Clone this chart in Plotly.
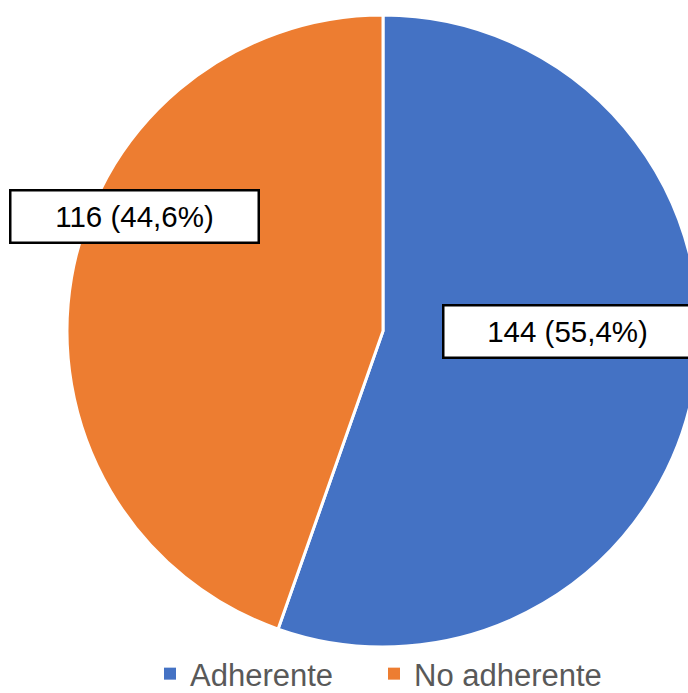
import plotly.graph_objects as go

categories = ["Adherente", "No adherente"]
counts = [144, 116]
pct_labels = ["55,4%", "44,6%"]
colors = ["#4472C4", "#ED7D31"]

W, H = 720, 693

def px(x):
    return x / W

def py(y):
    return 1 - y / H

fig = go.Figure(go.Pie(
    labels=categories,
    values=counts,
    sort=False,
    direction="clockwise",
    rotation=0,
    marker=dict(colors=colors, line=dict(color="white", width=3)),
    textinfo="none",
    hoverinfo="label+value+percent",
    showlegend=False,
    domain=dict(x=[px(67), px(699)], y=[py(647), py(15)]),
))

# legend entries with square swatches, one legend per entry
legend_ids = ["legend", "legend2"]
legend_left = [150, 374]
for name, c, lid in zip(categories, colors, legend_ids):
    fig.add_trace(go.Scatter(
        x=[None], y=[None], mode="markers", name=name,
        marker=dict(symbol="square", size=12, color=c),
        showlegend=True, hoverinfo="skip", legend=lid,
    ))

label_pos = [(567, 331), (134, 216)]
for (cx, cy), n, p in zip(label_pos, counts, pct_labels):
    fig.add_annotation(
        x=px(cx), y=py(cy), xref="paper", yref="paper",
        xanchor="center", yanchor="middle",
        text=f"{n} ({p})", showarrow=False,
        font=dict(family="Liberation Sans, Arial", size=29.5, color="#000000"),
        bgcolor="white", bordercolor="black", borderwidth=2.5,
        width=242, height=46, borderpad=2,
    )

legend_style = dict(
    orientation="h", xanchor="left", y=py(674), yanchor="middle",
    font=dict(family="Liberation Sans, Arial", size=31, color="#595959"),
    itemwidth=30, bgcolor="rgba(0,0,0,0)",
)

fig.update_layout(
    width=W, height=H,
    margin=dict(l=0, r=0, t=0, b=0, autoexpand=False),
    paper_bgcolor="white", plot_bgcolor="white",
    showlegend=True,
    xaxis=dict(visible=False), yaxis=dict(visible=False),
    legend=dict(x=px(legend_left[0]), **legend_style),
    legend2=dict(x=px(legend_left[1]), **legend_style),
)

fig.write_html("out.html", post_script=(
    "document.documentElement.style.overflow='hidden';"
    "document.body.style.overflow='hidden';"
    "document.body.style.margin='0';"
))
